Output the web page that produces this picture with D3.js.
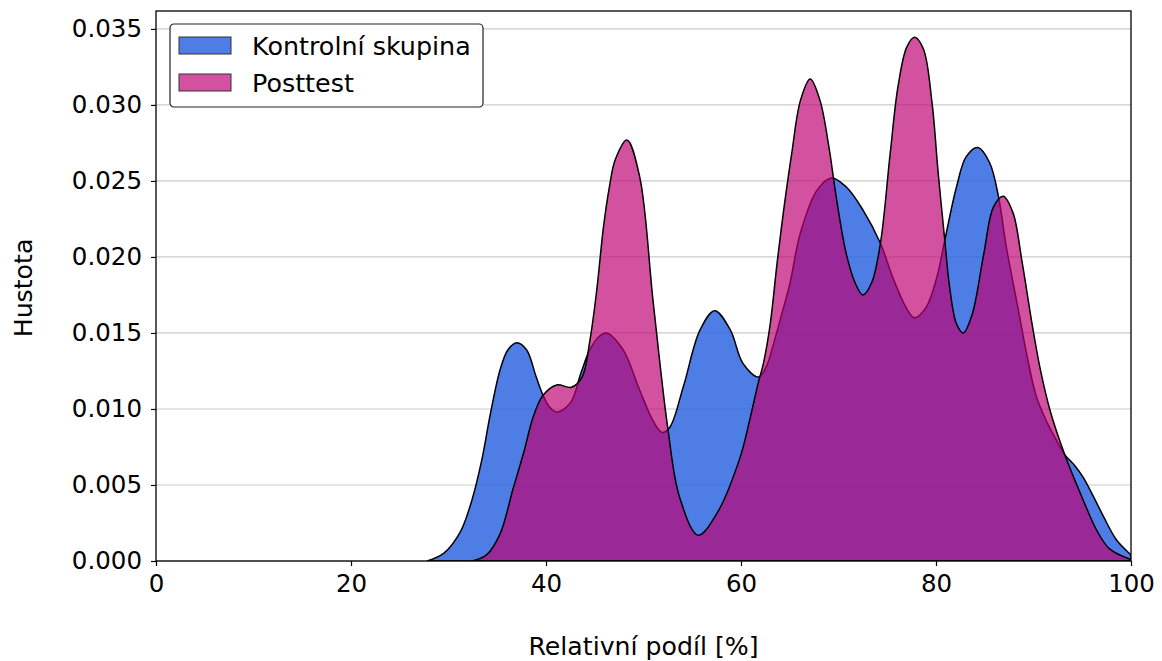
<!DOCTYPE html>
<html>
<head>
<meta charset="utf-8">
<script src="https://cdn.jsdelivr.net/npm/d3@7"></script>
<style>
    body { margin: 0; background: #fff; }
    svg { display: block; font-family: "DejaVu Sans", sans-serif; }
</style>
</head>
<body>
<svg id="chart" width="1162" height="661"></svg>
<script>
// Kontrolní skupina (blue) – density
const controlX = [27.8, 29.5, 31.2, 32.4, 33.4, 34.3, 35.3, 36.1, 37.0, 38.0, 39.0, 39.7, 40.4, 41.1, 42.5, 43.6,
    44.5, 45.5, 46.2, 47.9, 49.6, 51.0, 51.9, 52.7, 54.1, 55.8, 57.3, 58.9, 60.2, 61.8, 62.6, 63.3, 64.2, 65.0,
    66.1, 67.8, 69.3, 70.8, 72.5, 74.3, 75.6, 77.0, 77.8, 79.0, 80.1, 80.9, 82.1, 83.1, 84.3, 85.5, 86.4, 87.2,
    88.0, 88.6, 89.3, 90.3, 91.4, 92.3, 93.2, 94.2, 95.1, 96.1, 97.2, 98.5, 100];
const controlY = [0, 0.0005, 0.0019, 0.0040, 0.0066, 0.0097, 0.0126, 0.0139, 0.01436, 0.0139, 0.0121, 0.0109,
    0.0101, 0.0098, 0.0104, 0.0124, 0.0139, 0.0148, 0.0150, 0.0139, 0.01125, 0.0092, 0.00846, 0.0088, 0.0115,
    0.0152, 0.01647, 0.0152, 0.0130, 0.0121, 0.0128, 0.0142, 0.0163, 0.0182, 0.0216, 0.0244, 0.0252, 0.0246,
    0.0231, 0.0209, 0.0186, 0.0166, 0.0160, 0.0167, 0.0187, 0.0211, 0.0246, 0.0266, 0.0272, 0.0262, 0.0240,
    0.0207, 0.0180, 0.0160, 0.0136, 0.0108, 0.0091, 0.0080, 0.0070, 0.0063, 0.0055, 0.0043, 0.0029, 0.0014, 0.0004];

// Posttest (magenta)
const posttestX = [32.4, 33.9, 35.3, 36.6, 37.7, 38.7, 39.7, 41.1, 42.6, 43.7, 44.5, 45.2, 45.9, 46.5, 47.1,
    48.3, 49.6, 51.0, 52.5, 53.7, 55.6, 57.5, 59.9, 60.9, 61.8, 62.3, 63.0, 63.7, 64.4, 65.2, 66.1, 67.1, 68.1,
    69.0, 69.8, 70.8, 71.7, 72.5, 73.4, 74.3, 75.3, 76.1, 77.0, 77.8, 78.7, 79.6, 80.2, 80.9, 81.4, 82.1, 82.8,
    83.7, 84.9, 85.9, 86.9, 87.9, 88.8, 89.8, 90.7, 91.7, 93.2, 95.1, 96.5, 97.8, 100];
const posttestY = [0, 0.0004, 0.0018, 0.0047, 0.0071, 0.0095, 0.0109, 0.01158, 0.01143, 0.0121, 0.0145, 0.0178,
    0.0220, 0.0246, 0.0264, 0.0277, 0.0253, 0.0170, 0.0087, 0.0042, 0.0017, 0.0031, 0.0068, 0.0093, 0.0118,
    0.0130, 0.0156, 0.0196, 0.0232, 0.0268, 0.0303, 0.0317, 0.0303, 0.0273, 0.0238, 0.0202, 0.0183, 0.0175,
    0.0183, 0.0209, 0.0268, 0.0312, 0.0338, 0.03445, 0.0337, 0.0301, 0.0257, 0.0211, 0.0180, 0.0156, 0.0150,
    0.0162, 0.0202, 0.0233, 0.0240, 0.0229, 0.0198, 0.0158, 0.0126, 0.0099, 0.0070, 0.0040, 0.0020, 0.0008, 0.0001];

const xTicks = [0, 20, 40, 60, 80, 100];
const yTicks = [0, 0.005, 0.010, 0.015, 0.020, 0.025, 0.030, 0.035];
const seriesNames = ["Kontrolní skupina", "Posttest"];

const svg = d3.select("#chart");
const margin = {top: 11, right: 31, bottom: 100, left: 156},
      width = 1162 - margin.left - margin.right,
      height = 661 - margin.top - margin.bottom;

const g = svg.append("g").attr("transform", `translate(${margin.left},${margin.top})`);

const x = d3.scaleLinear().domain([0, 100]).range([0, width]);
const y = d3.scaleLinear().domain([0, 0.03618]).range([height, 0]);

// gridlines
g.append("g")
    .selectAll("line")
    .data(yTicks)
    .enter().append("line")
    .attr("x1", 0).attr("x2", width)
    .attr("y1", d => y(d)).attr("y2", d => y(d))
    .attr("stroke", "#cbcbcb")
    .attr("stroke-width", 1.2);

svg.append("defs").append("clipPath").attr("id", "clip")
    .append("rect").attr("width", width).attr("height", height);

const area = d3.area()
    .x(d => x(d[0]))
    .y0(y(0))
    .y1(d => Math.min(y(d[1]), y(0)))
    .curve(d3.curveCatmullRom.alpha(0.5));

const plots = g.append("g").attr("clip-path", "url(#clip)");

plots.append("path")
    .datum(d3.zip(controlX, controlY))
    .attr("d", area)
    .attr("fill", "rgb(47,102,226)")
    .attr("fill-opacity", 0.85)
    .attr("stroke", "#000")
    .attr("stroke-width", 1.5);

plots.append("path")
    .datum(d3.zip(posttestX, posttestY))
    .attr("d", area)
    .attr("fill", "rgb(190,0,113)")
    .attr("fill-opacity", 0.68)
    .attr("stroke", "#000")
    .attr("stroke-width", 1.5);

// axes
const xAxis = g.append("g")
    .attr("transform", `translate(0,${height})`)
    .call(d3.axisBottom(x).tickValues(xTicks).tickSize(5).tickPadding(9).tickSizeOuter(0));
const yAxis = g.append("g")
    .call(d3.axisLeft(y).tickValues(yTicks).tickFormat(d3.format(".3f")).tickSize(5).tickPadding(9).tickSizeOuter(0));

[xAxis, yAxis].forEach(a => {
    a.selectAll("text").attr("font-size", 24.5).attr("font-family", "DejaVu Sans").attr("fill", "#000");
    a.selectAll("line").attr("stroke", "#000").attr("stroke-width", 1.2);
    a.select(".domain").remove();
});

// frame
g.append("rect")
    .attr("width", width).attr("height", height)
    .attr("fill", "none").attr("stroke", "#000").attr("stroke-width", 1.3);

// axis labels
svg.append("text")
    .attr("x", margin.left + width / 2).attr("y", 655)
    .attr("text-anchor", "middle")
    .attr("font-size", 25.2)
    .text("Relativní podíl [%]");

svg.append("text")
    .attr("transform", "translate(32,288) rotate(-90)")
    .attr("text-anchor", "middle")
    .attr("font-size", 25.2)
    .text("Hustota");

// legend
const legend = svg.append("g").attr("transform", "translate(170,24)");
legend.append("rect")
    .attr("width", 313).attr("height", 83)
    .attr("rx", 4)
    .attr("fill", "#fff").attr("fill-opacity", 0.9)
    .attr("stroke", "#222").attr("stroke-width", 1.2);

const legendColors = [["rgb(47,102,226)", 0.85], ["rgb(190,0,113)", 0.68]];
seriesNames.forEach((name, i) => {
    const row = legend.append("g").attr("transform", `translate(0,${13 + i * 37})`);
    row.append("rect")
        .attr("x", 9).attr("width", 52).attr("height", 17)
        .attr("fill", legendColors[i][0]).attr("fill-opacity", legendColors[i][1])
        .attr("stroke", "#333").attr("stroke-width", 1);
    row.append("text")
        .attr("x", 82).attr("y", 18)
        .attr("font-size", 25.4)
        .text(name);
});
</script>
</body>
</html>
